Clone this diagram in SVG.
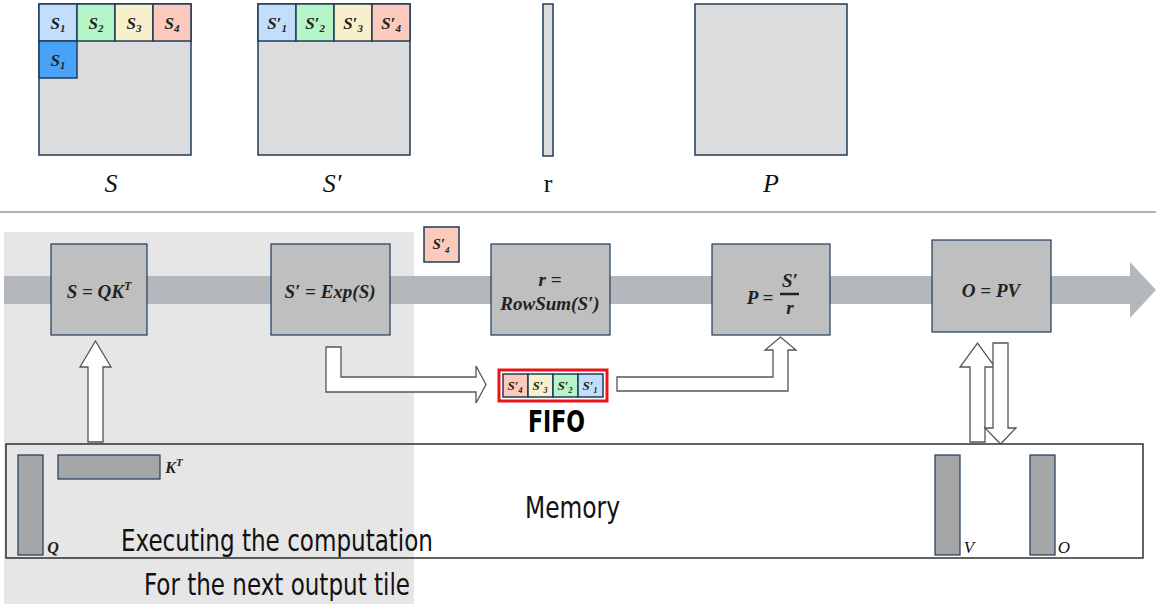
<svg xmlns="http://www.w3.org/2000/svg" width="1156" height="604" viewBox="0 0 1156 604">
<style>
.m{fill:#dcdcde;stroke:#1f3b5a;stroke-width:1.5}
.c{stroke:#1f3b5a;stroke-width:1.5}
.n{fill:#bfbfbf;stroke:#1f3b5a;stroke-width:1.2}
.mt{font-family:"Liberation Serif",serif;font-style:italic;font-weight:bold;fill:#222;text-anchor:middle}
.lb{font-family:"Liberation Serif",serif;font-style:italic;fill:#111;text-anchor:middle;font-size:26px}
.ar{fill:#fff;stroke:#555;stroke-width:1.3}
.bar{fill:#a6a6a6;stroke:#1f3b5a;stroke-width:1.2}
.cn{font-family:"DejaVu Sans Condensed","Liberation Sans",sans-serif;fill:#111}
</style>
<rect width="1156" height="604" fill="#fff"/>
<g id="matS">
<rect class="m" x="39" y="4" width="152" height="151"/>
<rect class="c" x="39" y="4" width="38" height="37" fill="#c3defa"/>
<rect class="c" x="77" y="4" width="38" height="37" fill="#b6f5c8"/>
<rect class="c" x="115" y="4" width="38" height="37" fill="#f8f0cc"/>
<rect class="c" x="153" y="4" width="38" height="37" fill="#fcc9bd"/>
<rect class="c" x="39" y="41" width="38" height="37" fill="#48a2f5"/>
<text class="mt" font-size="17" x="58" y="29">S<tspan font-size="11" dy="3">1</tspan></text>
<text class="mt" font-size="17" x="96" y="29">S<tspan font-size="11" dy="3">2</tspan></text>
<text class="mt" font-size="17" x="134" y="29">S<tspan font-size="11" dy="3">3</tspan></text>
<text class="mt" font-size="17" x="172" y="29">S<tspan font-size="11" dy="3">4</tspan></text>
<text class="mt" font-size="17" x="58" y="66">S<tspan font-size="11" dy="3">1</tspan></text>
<text class="lb" x="111" y="192">S</text>
</g>
<g id="matSp">
<rect class="m" x="258" y="4" width="152" height="151"/>
<rect class="c" x="258" y="4" width="38" height="37" fill="#c3defa"/>
<rect class="c" x="296" y="4" width="38" height="37" fill="#b6f5c8"/>
<rect class="c" x="334" y="4" width="38" height="37" fill="#f8f0cc"/>
<rect class="c" x="372" y="4" width="38" height="37" fill="#fcc9bd"/>
<text class="mt" font-size="17" x="277" y="29">S′<tspan font-size="11" dy="3">1</tspan></text>
<text class="mt" font-size="17" x="315" y="29">S′<tspan font-size="11" dy="3">2</tspan></text>
<text class="mt" font-size="17" x="353" y="29">S′<tspan font-size="11" dy="3">3</tspan></text>
<text class="mt" font-size="17" x="391" y="29">S′<tspan font-size="11" dy="3">4</tspan></text>
<text class="lb" x="332" y="192">S′</text>
</g>
<g id="vecR">
<rect class="m" x="543" y="4" width="10" height="152"/>
<text x="548" y="192" font-family="Liberation Serif,serif" font-size="26" text-anchor="middle" fill="#111">r</text>
</g>
<g id="matP">
<rect class="m" x="695" y="4" width="152" height="151"/>
<text class="lb" x="771" y="192">P</text>
</g>
<line x1="0" y1="212" x2="1156" y2="212" stroke="#999" stroke-width="1.5"/>
<rect x="4" y="232" width="410" height="372" fill="#e6e6e6"/>
<g id="band">
<rect x="4" y="276" width="1126" height="28" fill="#b4b8bd"/>
<polygon points="1130,262 1156,290 1130,318" fill="#b4b8bd"/>
</g>
<g id="nodeS"><rect class="n" x="51" y="244" width="96" height="91"/><text class="mt" font-size="19" x="99" y="298">S = QK<tspan font-size="12" dy="-8">T</tspan></text></g>
<g id="nodeExp"><rect class="n" x="271" y="244" width="119" height="91"/><text class="mt" font-size="19" x="330" y="298">S′ = Exp(S)</text></g>
<g id="nodeR"><rect class="n" x="491" y="244" width="119" height="91"/><text class="mt" font-size="19" x="550" y="286">r =</text><text class="mt" font-size="19" x="550" y="310">RowSum(S′)</text></g>
<g id="nodeP"><rect class="n" x="712" y="244" width="118" height="91"/><text class="mt" font-size="19" x="760" y="304">P =</text><text class="mt" font-size="19" x="790" y="287">S′</text><line x1="780" y1="294" x2="799" y2="294" stroke="#222" stroke-width="2.5"/><text class="mt" font-size="19" x="790" y="314">r</text></g>
<g id="nodeO"><rect class="n" x="932" y="240" width="119" height="92"/><text class="mt" font-size="19" x="991" y="297">O = PV</text></g>
<g id="s4tile"><rect class="c" x="424" y="227" width="35" height="35" fill="#fcc9bd"/><text class="mt" font-size="15" x="441" y="249">S′<tspan font-size="9" dy="4">4</tspan></text></g>
<g id="fifo">
<rect x="499" y="370" width="108" height="31" fill="none" stroke="#e8141a" stroke-width="3"/>
<rect class="c" x="503" y="374" width="25" height="23" fill="#fcc9bd"/>
<rect class="c" x="528" y="374" width="25" height="23" fill="#f8f0cc"/>
<rect class="c" x="553" y="374" width="25" height="23" fill="#b6f5c8"/>
<rect class="c" x="578" y="374" width="25" height="23" fill="#c3defa"/>
<text class="mt" font-size="13" x="515" y="390">S′<tspan font-size="8" dy="3">4</tspan></text>
<text class="mt" font-size="13" x="540" y="390">S′<tspan font-size="8" dy="3">3</tspan></text>
<text class="mt" font-size="13" x="565" y="390">S′<tspan font-size="8" dy="3">2</tspan></text>
<text class="mt" font-size="13" x="590" y="390">S′<tspan font-size="8" dy="3">1</tspan></text>
<text x="528" y="432" textLength="57" lengthAdjust="spacingAndGlyphs" font-family="DejaVu Sans Condensed,Liberation Sans,sans-serif" font-weight="bold" font-size="30" fill="#000">FIFO</text>
</g>
<g id="memory">
<rect x="6" y="444" width="1137" height="114" fill="none" stroke="#111" stroke-width="1.3"/>
<text class="cn" x="525" y="518" font-size="31" textLength="95" lengthAdjust="spacingAndGlyphs">Memory</text>
<rect class="bar" x="18" y="455" width="25" height="100"/>
<text class="mt" font-size="16" x="53" y="553">Q</text>
<rect class="bar" x="58" y="455" width="102" height="24"/>
<text class="mt" font-size="16" x="174" y="473">K<tspan font-size="11" dy="-7">T</tspan></text>
<rect class="bar" x="935" y="455" width="25" height="100"/>
<text x="969" y="553" font-family="Liberation Serif,serif" font-style="italic" font-size="17" fill="#111" text-anchor="middle">V</text>
<rect class="bar" x="1030" y="455" width="25" height="100"/>
<text x="1064" y="553" font-family="Liberation Serif,serif" font-style="italic" font-size="17" fill="#111" text-anchor="middle">O</text>
</g>
<g id="connectors">
<polygon class="ar" points="88,442 103,442 103,367 111,367 95.5,341 80,367 88,367"/>
<polygon class="ar" points="326,347 341,347 341,377 476,377 476,366 486,384.5 476,403 476,392 326,392"/>
<polygon class="ar" points="617,377 773,377 773,350 765,350 780.5,337 796,350 788,350 788,391 617,391"/>
<polygon class="ar" points="970,442 985,442 985,367 995,367 977.5,343 960,367 970,367"/>
<polygon class="ar" points="993,343 1008,343 1008,428 1016,428 1000.5,444 985,428 993,428"/>
</g>
<text class="cn" x="121" y="551" font-size="31" textLength="312" lengthAdjust="spacingAndGlyphs" fill="#333">Executing the computation</text>
<text class="cn" x="144" y="595" font-size="31" textLength="266" lengthAdjust="spacingAndGlyphs" fill="#333">For the next output tile</text>
</svg>
